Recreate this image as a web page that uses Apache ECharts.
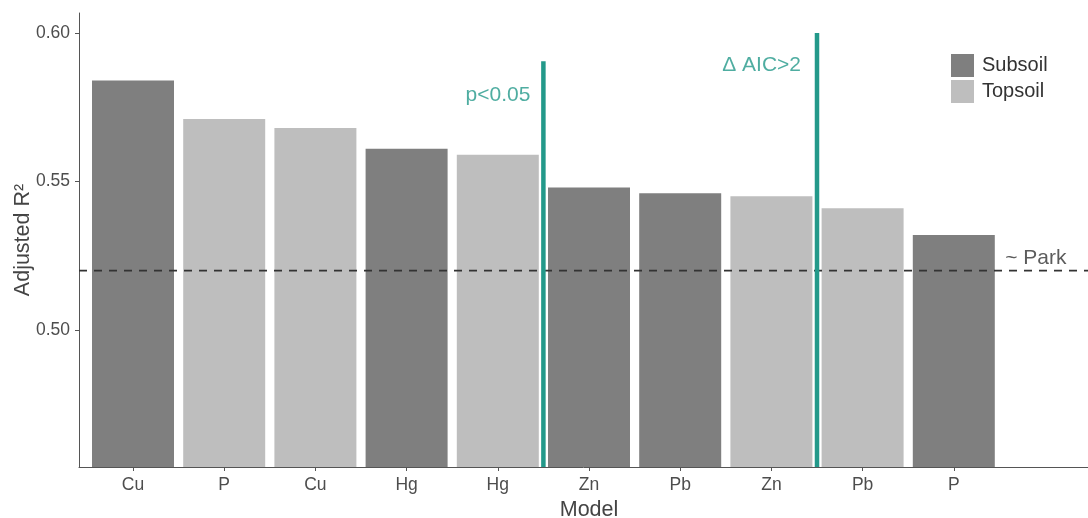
<!DOCTYPE html>
<html>
<head>
<meta charset="utf-8">
<script src="https://cdn.jsdelivr.net/npm/echarts@6/dist/echarts.min.js"></script>
<style>
  html, body { margin: 0; padding: 0; background: #fff; }
  #chart { width: 1088px; height: 518px; }
</style>
</head>
<body>
<div id="chart"></div>
<script>
  // data
  var models = ['Cu', 'P', 'Cu', 'Hg', 'Hg', 'Zn', 'Pb', 'Zn', 'Pb', 'P'];
  var layers = ['Subsoil', 'Topsoil', 'Topsoil', 'Subsoil', 'Topsoil', 'Subsoil', 'Subsoil', 'Topsoil', 'Topsoil', 'Subsoil'];
  var adjR2 = [0.584, 0.571, 0.568, 0.561, 0.559, 0.548, 0.546, 0.545, 0.541, 0.532];
  var yTicks = [0.50, 0.55, 0.60];
  var parkR2 = 0.52;
  var cutX = [4.5, 7.5];          // positions between bars
  var cutTop = [0.5905, 0.60];
  var cutText = ['p<0.05', '\u0394 AIC>2'];
  var cutTextY = [0.5791, 0.5892];
  var parkText = '~ Park';
  var parkTextPos = [9.9, 0.5242];

  var yMin = 0.4539, yMax = 0.6067;
  var teal = '#23998a';
  var font = "'Liberation Sans', Arial, sans-serif";

  var chart = echarts.init(document.getElementById('chart'));

  function layerData(name) {
    return adjR2.map(function (v, i) { return layers[i] === name ? v : '-'; });
  }

  var series = [
    {
      name: 'Subsoil', type: 'bar', xAxisIndex: 0, yAxisIndex: 0,
      data: layerData('Subsoil'), barWidth: 82, barGap: '-100%',
      itemStyle: { color: '#7f7f7f' }, z: 2
    },
    {
      name: 'Topsoil', type: 'bar', xAxisIndex: 0, yAxisIndex: 0,
      data: layerData('Topsoil'), barWidth: 82, barGap: '-100%',
      itemStyle: { color: '#bebebe' }, z: 2
    },
    { // ~ Park reference line
      type: 'line', xAxisIndex: 2, yAxisIndex: 1,
      data: [[0, parkR2], [1, parkR2]], symbol: 'none', silent: true,
      lineStyle: { color: '#333', width: 1.8, type: [8, 7] }, z: 5
    },
    {
      type: 'scatter', xAxisIndex: 1, yAxisIndex: 0, symbolSize: 0, silent: true,
      data: [{
        value: parkTextPos,
        label: { show: true, position: 'inside', formatter: parkText, color: '#333', fontSize: 21, fontFamily: font }
      }], z: 6
    }
  ];

  cutX.forEach(function (x, k) {
    series.push({
      type: 'line', xAxisIndex: 1, yAxisIndex: 0, symbol: 'none', silent: true,
      data: [[x, yMin], [x, cutTop[k]]],
      lineStyle: { color: teal, width: 4.5 }, z: 7
    });
    series.push({
      type: 'scatter', xAxisIndex: 1, yAxisIndex: 0, symbolSize: 0, silent: true,
      data: [{
        value: [x, cutTextY[k]],
        label: { show: true, position: 'left', distance: k === 0 ? 13 : 16, formatter: cutText[k], color: teal, fontSize: 21, fontFamily: font }
      }], z: 7
    });
  });

  var option = {
    backgroundColor: '#fff',
    animation: false,
    textStyle: { fontFamily: font },
    grid: [
      { left: 87.4, width: 1003.2, top: 13, bottom: 51, outerBoundsMode: 'none', containLabel: false },
      { left: 79, right: 0, top: 13, bottom: 51, outerBoundsMode: 'none', containLabel: false }
    ],
    legend: {
      data: ['Subsoil', 'Topsoil'],
      orient: 'vertical', left: 946, top: 49,
      itemWidth: 23, itemHeight: 23, itemGap: 3, icon: 'rect',
      textStyle: { fontSize: 20, color: '#333', padding: [0, 0, 0, 3] }
    },
    xAxis: [
      {
        type: 'category', gridIndex: 0, data: models.concat(['']),
        boundaryGap: true,
        axisLine: { show: false },
        axisTick: { show: true, alignWithLabel: true, length: 4, lineStyle: { color: '#555' },
          interval: function (i) { return i < models.length; } },
        axisLabel: { color: '#4d4d4d', fontSize: 17.5, margin: 9, interval: 0 },
        name: 'Model', nameLocation: 'middle', nameGap: 28,
        nameTextStyle: { fontSize: 21.5, color: '#444' }
      },
      { type: 'value', gridIndex: 0, min: -0.5, max: 10.5, show: false },
      {
        type: 'value', gridIndex: 1, min: 0, max: 1,
        axisLine: { show: true, lineStyle: { color: '#555', width: 1 } },
        axisTick: { show: false }, axisLabel: { show: false }, splitLine: { show: false }
      }
    ],
    yAxis: [
      { type: 'value', gridIndex: 0, min: yMin, max: yMax, show: false },
      {
        type: 'value', gridIndex: 1, min: yMin, max: yMax,
        axisLine: { show: true, lineStyle: { color: '#555', width: 1 } },
        axisTick: { show: true, length: 4, lineStyle: { color: '#555' }, customValues: yTicks },
        axisLabel: { color: '#4d4d4d', fontSize: 17.5, margin: 9, customValues: yTicks,
          formatter: function (v) { return v.toFixed(2); } },
        splitLine: { show: false },
        name: 'Adjusted R\u00b2', nameLocation: 'middle', nameRotate: 90, nameGap: 45,
        nameMoveOverlap: false,
        nameTextStyle: { fontSize: 21.5, color: '#444' }
      }
    ],
    series: series
  };

  chart.setOption(option, true);
</script>
</body>
</html>
